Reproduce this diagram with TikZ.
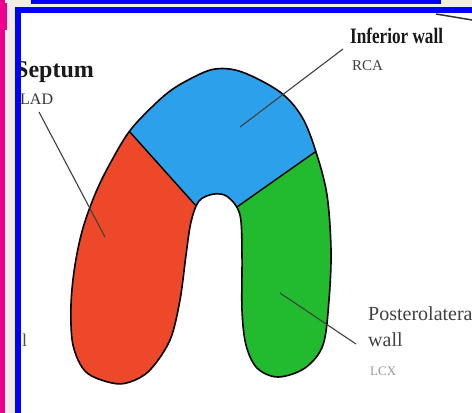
\documentclass[tikz,border=0pt]{standalone}
\usepackage{fontspec}
\setmainfont{Liberation Serif}

\definecolor{septumred}{RGB}{238,72,42}
\definecolor{inferiorblue}{RGB}{45,160,236}
\definecolor{lateralgreen}{RGB}{34,186,46}
\definecolor{framebeige}{RGB}{240,238,228}

% outline of the ventricle, hole between the two walls left open
\def\ventricle{plot[smooth cycle, tension=0.55] coordinates {
	(112,383) (86,372) (73,345) (71,305) (75,265) (83,228) (96,192)
	(112,160) (132,128) (165,95) (190,79) (215,69) (242,72) (280,92)
	(302,117) (316,152) (327,195) (331,250) (329,300) (323,345)
	(305,368) (278,377) (257,368) (246,345) (242,310) (242,255)
	(240,215) (228,197) (214,194) (199,201) (191,222) (186,255)
	(180,300) (170,340) (150,370) (130,382)}}

\begin{document}
\begin{tikzpicture}[x=1pt, y=-1pt,
	walltext/.style={anchor=base west, inner sep=0pt},
	leaderline/.style={draw=black!75, line width=1.1pt}]
	\useasboundingbox (0,0) rectangle (472,413);
	\fill[framebeige] (0,0) rectangle (472,413);
	\fill[white] (21,13) rectangle (472,413);

	% the three walls
	\fill[inferiorblue] \ventricle;
	\begin{scope}
		\clip \ventricle;
		\fill[septumred] (60,54) -- (215,227) -- (215,413) -- (0,413) -- (0,54) -- cycle;
		\fill[lateralgreen] (217,221) -- (396,95) -- (472,95) -- (472,413) -- (217,413) -- cycle;
		\draw[line width=1.4pt] (60,54) -- (215,227);
		\draw[line width=1.4pt] (217,221) -- (396,95);
	\end{scope}
	\draw[line width=1.6pt] \ventricle;

	% labels
	\node (septum) at (15,77) [walltext, font=\bfseries\fontsize{24}{26}\selectfont, text=black!90] {Septum};
	\node (lad) at (20,104) [walltext, font=\fontsize{16}{18}\selectfont, text=black!80] {LAD};
	\node (inferior) at (350,43) [walltext, xscale=0.78, font=\bfseries\fontsize{22}{24}\selectfont, text=black!90] {Inferior wall};
	\node (rca) at (352,70) [walltext, font=\fontsize{15}{17}\selectfont, text=black!75] {RCA};
	\node (postero) at (368,320) [walltext, font=\fontsize{20}{22}\selectfont, text=black!75] {Posterolateral};
	\node (pwall) at (368,346) [walltext, font=\fontsize{20}{22}\selectfont, text=black!75] {wall};
	\node (lcx) at (370,375) [walltext, font=\fontsize{13}{15}\selectfont, text=black!40] {LCX};
	\node (stray) at (22,346) [walltext, font=\fontsize{18}{20}\selectfont, text=black!70] {l};

	% leader lines
	\coordinate (septumTip) at (39,112);
	\coordinate (septumEnd) at (105,237);
	\coordinate (inferiorTip) at (343,49);
	\coordinate (inferiorEnd) at (240,127);
	\coordinate (posteroTip) at (356,344);
	\coordinate (posteroEnd) at (280,293);
	\draw[leaderline] (septumTip) -- (septumEnd);
	\draw[leaderline] (inferiorTip) -- (inferiorEnd);
	\draw[leaderline] (posteroTip) -- (posteroEnd);

	% frame round the scan
	\fill[magenta] (0,0) rectangle (5,413);
	\fill[magenta] (0,3) rectangle (7,30);
	\fill[blue] (15,7) rectangle (21,413);
	\fill[blue] (15,7) rectangle (472,13);
	\fill[blue] (31,0) rectangle (441,4);
	\draw[black!80, line width=1.5pt] (436,14) -- (472,20);
\end{tikzpicture}
\end{document}
